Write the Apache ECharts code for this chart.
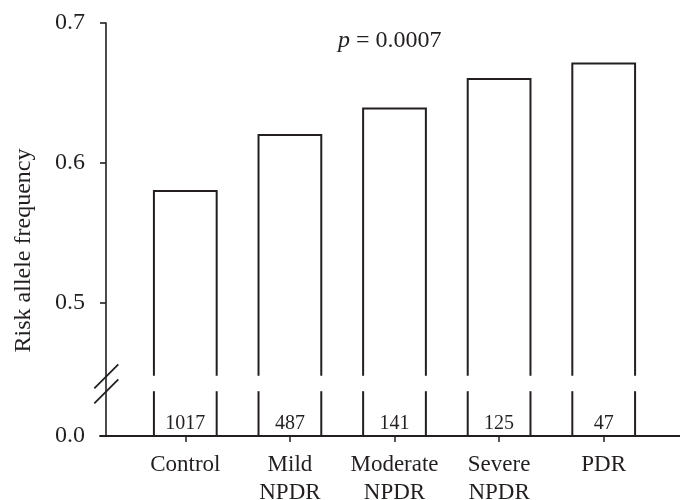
<!DOCTYPE html>
<html>
<head>
<meta charset="utf-8">
<script src="https://cdn.jsdelivr.net/npm/echarts@6/dist/echarts.min.js"></script>
<style>html,body{margin:0;padding:0;background:#fff}#c{width:680px;height:500px}</style>
</head>
<body>
<div id="c"></div>
<script>
// ---- data ----
var categories = ['Control', 'Mild\nNPDR', 'Moderate\nNPDR', 'Severe\nNPDR', 'PDR'];
var frequencies = [0.580, 0.620, 0.639, 0.660, 0.671];
var sampleSizes = ['1017', '487', '141', '125', '47'];
var tickLabels = ['0.0', '0.5', '0.6', '0.7'];
var tickRealValues = [0.0, 0.5, 0.6, 0.7];

// broken axis: values >= 0.5 are shifted down by OFFSET; 0.0 stays at 0
var OFFSET = 0.405;
function toAxis(v) { return v === 0 ? 0 : v - OFFSET; }
var tickAxisValues = tickRealValues.map(toAxis);
var GAP_LOW = 0.032, GAP_HIGH = 0.043, LABEL_POS = 0.009;

var INK = '#231f20';
var FONT = '"Liberation Serif", "DejaVu Serif", serif';

var chart = echarts.init(document.getElementById('c'), null, {renderer: 'canvas'});

function data_n(i) { return sampleSizes[i]; }

var option = {
  animation: false,
  backgroundColor: '#fff',
  title: {
    left: 333, top: 24,
    text: '{i|p} = 0.0007',
    textStyle: {
      fontFamily: FONT, fontSize: 24, fontWeight: 'normal', color: INK,
      rich: { i: { fontFamily: FONT, fontSize: 24, fontStyle: 'italic', color: INK } }
    }
  },
  grid: [
    { left: 133, right: 24, top: 23, bottom: 64, containLabel: false, outerBoundsMode: 'none' },
    { left: 100, right: 0, top: 23, bottom: 64, containLabel: false, outerBoundsMode: 'none' }
  ],
  xAxis: [
    {
      type: 'category', gridIndex: 0, data: categories,
      axisLine: { show: false },
      axisTick: { show: true, alignWithLabel: true, length: 6, lineStyle: { color: INK, width: 1.5 } },
      axisLabel: { fontFamily: FONT, fontSize: 23, color: INK, lineHeight: 28, margin: 15, interval: 0 }
    },
    {
      type: 'value', gridIndex: 1, min: 0, max: 1,
      axisLine: { show: true, lineStyle: { color: INK, width: 1.8 } },
      axisTick: { show: false }, axisLabel: { show: false }, splitLine: { show: false }
    }
  ],
  yAxis: [
    {
      type: 'value', gridIndex: 0, min: 0, max: toAxis(0.7), offset: 27,
      name: 'Risk allele frequency', nameLocation: 'middle', nameRotate: 90, nameGap: 70,
      nameTextStyle: { fontFamily: FONT, fontSize: 24, color: INK, padding: [0, 42, 0, 0] },
      axisLine: { show: true, lineStyle: { color: INK, width: 1.6 } },
      axisTick: { show: true, length: 6, customValues: tickAxisValues, lineStyle: { color: INK, width: 1.6 } },
      axisLabel: {
        customValues: tickAxisValues, margin: 21,
        fontFamily: FONT, fontSize: 24, color: INK,
        formatter: function (v) {
          for (var i = 0; i < tickAxisValues.length; i++) {
            if (Math.abs(tickAxisValues[i] - v) < 1e-6) return tickLabels[i];
          }
          return '';
        }
      },
      splitLine: { show: false }
    },
    { type: 'value', gridIndex: 1, show: false, min: 0, max: 1 }
  ],
  series: [
    {
      type: 'custom', xAxisIndex: 0, yAxisIndex: 0,
      data: frequencies.map(function (f, i) { return [i, toAxis(f)]; }),
      renderItem: function (params, api) {
        var i = api.value(0);
        var cx = api.coord([i, 0])[0];
        var w = api.size([1, 0])[0] * 0.6;
        var xl = cx - w / 2, xr = cx + w / 2;
        var y0 = api.coord([i, 0])[1];
        var yTop = api.coord([i, api.value(1)])[1];
        var yGL = api.coord([i, GAP_LOW])[1];
        var yGH = api.coord([i, GAP_HIGH])[1];
        var yLab = api.coord([i, LABEL_POS])[1];
        var st = { stroke: INK, lineWidth: 2, fill: null };
        return {
          type: 'group',
          children: [
            { type: 'line', shape: { x1: xl, y1: yGL, x2: xl, y2: y0 }, style: st },
            { type: 'line', shape: { x1: xr, y1: yGL, x2: xr, y2: y0 }, style: st },
            { type: 'polyline', shape: { points: [[xl, yGH], [xl, yTop], [xr, yTop], [xr, yGH]] }, style: st },
            { type: 'text', style: { text: data_n(params.dataIndex), x: cx, y: yLab, align: 'center', verticalAlign: 'middle',
              font: '20px ' + FONT, fill: INK } }
          ]
        };
      }
    }
  ],
  graphic: [
    { type: 'line', shape: { x1: 94.3, y1: 388.3, x2: 118.3, y2: 364.3 }, style: { stroke: INK, lineWidth: 1.8 } },
    { type: 'line', shape: { x1: 94.3, y1: 403.3, x2: 118.3, y2: 379.3 }, style: { stroke: INK, lineWidth: 1.8 } }
  ]
};
chart.setOption(option);
</script>
</body>
</html>
